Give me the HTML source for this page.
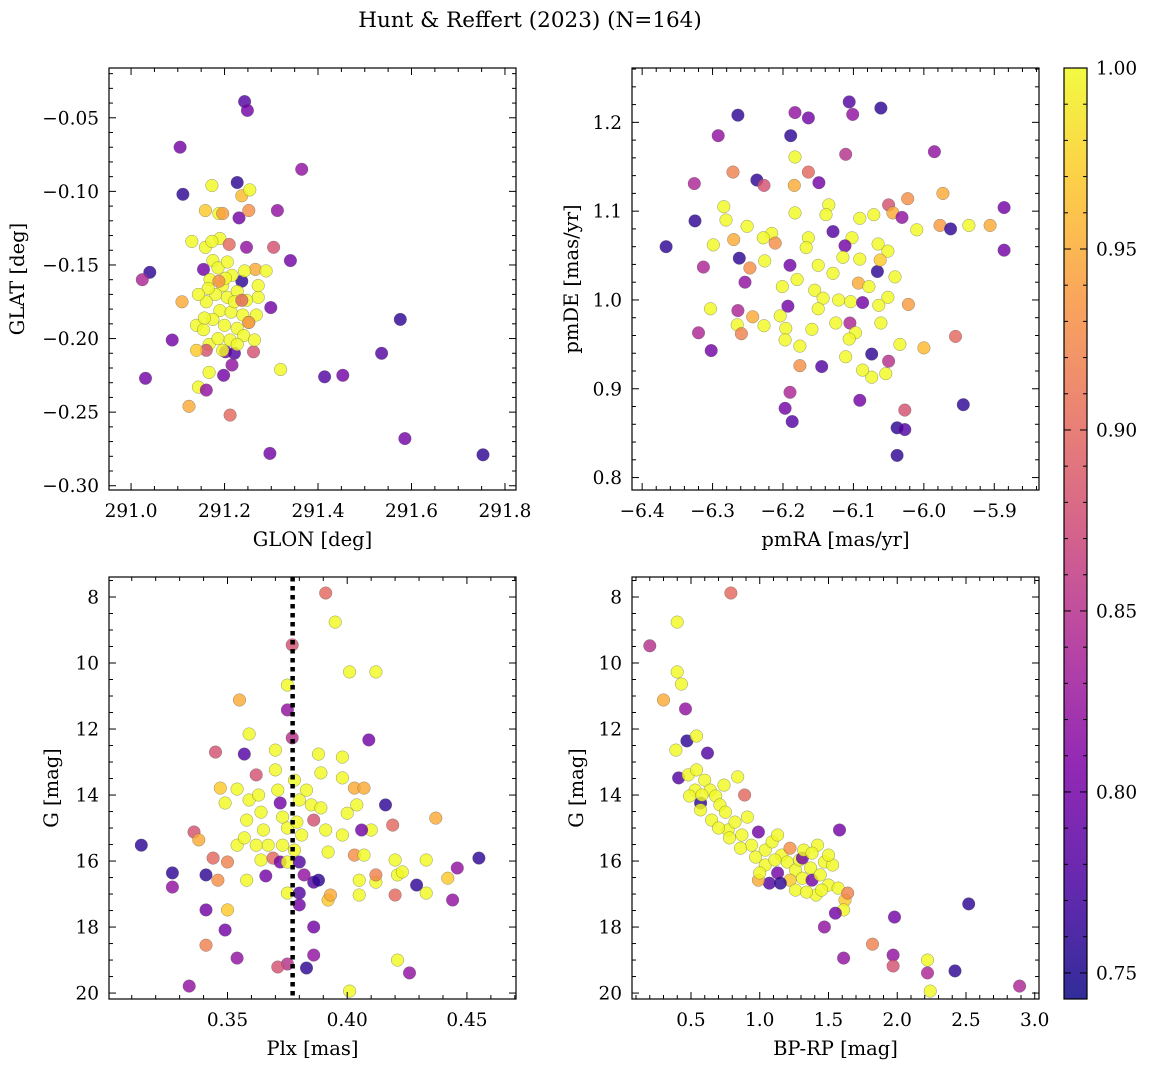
<!DOCTYPE html>
<html><head><meta charset="utf-8"><style>
body{margin:0;background:#fff;}
svg{display:block;font-family:"DejaVu Serif","Liberation Serif",serif;}
</style></head><body>
<svg id="fig" width="1149" height="1067" xmlns="http://www.w3.org/2000/svg">
<text x="530" y="27" text-anchor="middle" font-size="21.5">Hunt &amp; Reffert (2023) (N=164)</text>
</svg>
<script>
// Panel 1: GLON/GLAT
const p1Glon=[291.243,291.249,291.105,291.365,291.111,291.04,291.024,291.031,291.088,291.109,291.124,291.173,291.227,291.237,291.254,291.188,291.159,291.196,291.231,291.252,291.313,291.13,291.159,291.19,291.21,291.247,291.305,291.341,291.266,291.155,291.237,291.272,291.299,291.14,291.167,291.161,291.202,291.221,291.262,291.216,291.167,291.198,291.144,291.161,291.32,291.212,291.297,291.576,291.536,291.414,291.453,291.586,291.753,
291.175,291.186,291.206,291.169,291.196,291.216,291.181,291.206,291.227,291.247,291.161,291.19,291.214,291.239,291.175,291.2,291.227,291.252,291.268,291.155,291.186,291.212,291.241,291.264,291.196,291.227,291.165,291.243,291.272,291.289,291.144,291.157,291.221,291.202,291.173,291.188,291.252,291.237,291.14];
const p1Glat=[-0.039,-0.045,-0.070,-0.085,-0.102,-0.155,-0.160,-0.227,-0.201,-0.175,-0.246,-0.096,-0.094,-0.103,-0.099,-0.115,-0.113,-0.115,-0.118,-0.113,-0.113,-0.134,-0.138,-0.132,-0.136,-0.138,-0.138,-0.147,-0.153,-0.153,-0.161,-0.172,-0.179,-0.191,-0.204,-0.208,-0.209,-0.21,-0.209,-0.218,-0.223,-0.225,-0.233,-0.235,-0.221,-0.252,-0.278,-0.187,-0.21,-0.226,-0.225,-0.268,-0.279,
-0.147,-0.152,-0.148,-0.16,-0.164,-0.157,-0.17,-0.172,-0.168,-0.174,-0.175,-0.181,-0.182,-0.184,-0.187,-0.191,-0.193,-0.189,-0.184,-0.194,-0.2,-0.201,-0.198,-0.201,-0.208,-0.204,-0.166,-0.154,-0.164,-0.154,-0.17,-0.186,-0.175,-0.159,-0.134,-0.161,-0.189,-0.174,-0.208];
const p1Prob=[0.78,0.8,0.8,0.82,0.76,0.76,0.84,0.8,0.8,0.95,0.95,1,0.76,0.96,1,1,0.97,0.94,0.8,0.93,0.82,1,1,1,0.9,0.82,0.88,0.8,0.95,0.8,0.76,1,0.8,1,1,0.88,0.8,0.78,0.88,0.82,1,0.8,1,0.82,1,0.9,0.8,0.76,0.78,0.78,0.8,0.8,0.76,
1,1,1,1,1,1,1,1,1,1,1,1,1,1,1,1,1,1,1,1,1,1,1,1,1,1,1,1,1,1,1,1,1,1,1,0.93,0.93,0.9,0.97];
// Panel 2: pmRA/pmDE
const p2Pmra=[-6.264,-6.183,-6.164,-6.106,-6.101,-6.061,-6.292,-6.189,-5.985,-6.111,-6.183,-6.271,-6.164,-6.326,-6.237,-6.227,-6.184,-6.149,-6.135,-5.973,-6.05,-6.023,-6.284,-6.325,-6.281,-6.251,-6.216,-6.183,-6.139,-6.091,-6.071,-6.044,-6.031,-5.977,-5.962,-5.936,-5.906,-5.886,-5.886,-6.366,-6.299,-6.27,-6.228,-6.211,-6.164,-6.167,-6.129,-6.102,-6.112,-6.065,-6.051,-6.01,-6.066,-6.313,-6.247,-6.19,-6.226,-6.15,-6.129,-6.115,-6.091,-6.062,-6.262,-6.254,-6.201,-6.18,-6.155,-6.093,-6.078,-6.041,-6.143,-6.121,-6.051,-6.022,-6.303,-6.264,-6.193,-6.15,-6.104,-6.087,-6.064,-6.061,-6.243,-6.204,-6.125,-6.105,-6.097,-6.32,-6.265,-6.227,-6.259,-6.196,-6.159,-6.106,-6.034,-6.0,-5.955,-6.302,-6.197,-6.176,-6.111,-6.074,-6.05,-6.054,-6.074,-6.176,-6.145,-6.087,-5.944,-6.19,-6.091,-6.197,-6.027,-6.187,-6.038,-6.027,-6.038];
const p2Pmde=[1.208,1.211,1.205,1.223,1.209,1.216,1.185,1.185,1.167,1.164,1.161,1.144,1.144,1.131,1.135,1.129,1.129,1.132,1.107,1.12,1.107,1.114,1.105,1.089,1.09,1.083,1.075,1.098,1.096,1.092,1.096,1.098,1.093,1.084,1.08,1.084,1.084,1.104,1.056,1.06,1.062,1.068,1.07,1.064,1.07,1.059,1.077,1.07,1.061,1.063,1.055,1.079,1.032,1.037,1.036,1.039,1.044,1.039,1.03,1.048,1.046,1.045,1.047,1.02,1.015,1.023,1.011,1.019,1.015,1.026,1.002,1.0,1.003,0.995,0.99,0.988,0.993,0.99,0.998,0.997,0.994,0.974,0.981,0.982,0.974,0.974,0.963,0.963,0.972,0.971,0.962,0.968,0.967,0.956,0.95,0.946,0.959,0.943,0.955,0.948,0.936,0.939,0.931,0.917,0.913,0.926,0.925,0.921,0.882,0.896,0.887,0.878,0.876,0.863,0.856,0.854,0.825];
const p2Prob=[0.76,0.82,0.8,0.78,0.82,0.76,0.82,0.76,0.82,0.85,1,0.92,0.9,0.84,0.76,0.88,0.95,0.8,1,0.95,0.88,0.93,1,0.76,1,1,1,1,1,1,1,0.95,0.82,0.94,0.76,1,0.95,0.8,0.8,0.76,1,0.95,1,0.93,1,1,0.78,1,0.8,1,1,1,0.76,0.84,0.93,0.8,1,1,1,1,1,0.97,0.76,0.82,1,1,1,0.95,1,1,1,1,1,0.94,1,0.84,0.8,1,1,0.8,1,1,0.95,1,1,0.84,1,0.84,1,1,0.92,1,1,1,1,0.96,0.9,0.8,1,1,1,0.76,0.85,1,1,0.93,0.78,1,0.76,0.84,0.8,0.8,0.88,0.78,0.76,0.78,0.76];
// Panel 3: Plx/G
const p3Plx=[0.314,0.327,0.327,0.334,0.336,0.338,0.341,0.341,0.341,0.345,0.347,0.349,0.35,0.35,0.344,0.346,0.355,0.354,0.354,0.357,0.354,0.357,0.359,0.359,0.358,0.358,0.362,0.363,0.364,0.365,0.362,0.364,0.367,0.369,0.366,0.37,0.371,0.372,0.37,0.375,0.375,0.373,0.375,0.373,0.372,0.375,0.375,0.375,0.371,0.377,0.377,0.378,0.38,0.379,0.381,0.378,0.38,0.382,0.38,0.38,0.383,0.386,0.388,0.383,0.385,0.386,0.391,0.395,0.389,0.388,0.389,0.391,0.392,0.392,0.393,0.386,0.386,0.398,0.398,0.401,0.401,0.404,0.403,0.4,0.398,0.403,0.405,0.405,0.409,0.407,0.407,0.41,0.412,0.412,0.412,0.406,0.416,0.419,0.42,0.421,0.421,0.426,0.42,0.423,0.429,0.433,0.437,0.433,0.446,0.444,0.442,0.455,0.349];
const p3G=[15.52,16.36,16.79,19.79,15.12,15.36,16.42,17.48,18.55,12.7,13.79,18.09,17.48,16.03,15.91,16.58,11.12,13.82,15.52,15.3,18.94,12.76,12.15,14.15,14.76,16.58,13.39,14.0,14.52,15.06,15.52,15.97,15.52,15.91,16.45,13.24,13.85,14.24,12.64,10.67,11.42,14.67,15.0,15.52,16.03,16.03,16.97,19.12,19.21,9.45,12.27,13.55,14.15,14.82,15.21,15.67,16.03,16.42,16.97,17.33,19.24,16.64,16.58,13.85,14.3,14.76,7.88,8.76,13.33,12.76,14.39,15.06,15.73,17.18,17.03,18.0,18.85,12.85,13.48,10.27,19.94,14.3,13.79,14.55,15.21,15.82,16.58,17.03,12.33,13.79,15.82,15.06,16.64,16.42,10.27,15.06,14.3,14.91,15.97,16.42,19.0,19.39,17.03,16.33,16.73,16.97,14.7,15.97,16.21,17.18,16.52,15.91,14.24];
const p3Prob=[0.76,0.76,0.82,0.82,0.88,0.95,0.76,0.8,0.92,0.88,0.97,0.8,0.97,0.92,0.9,0.93,0.95,1,1,1,0.82,0.78,1,1,1,1,0.88,1,1,1,1,1,1,0.9,0.8,1,1,0.8,1,1,0.82,1,1,1,0.8,1,1,0.85,0.88,0.88,0.85,1,1,1,1,1,0.78,0.82,0.78,0.8,0.76,0.78,0.76,1,1,0.88,0.9,1,1,1,1,1,1,0.97,0.95,0.8,0.82,1,1,1,1,1,0.95,1,1,0.93,1,1,0.8,0.95,1,1,1,0.92,1,0.8,0.76,0.9,1,1,1,0.82,0.9,1,0.76,1,0.95,1,0.82,0.82,0.97,0.76,1];
const p3CutPlx=[0.3772];
// Panel 4: BP-RP/G
const p4Bprp=[0.2,0.3,0.4,0.4,0.43,0.46,0.79,0.39,0.47,0.54,0.62,0.41,0.48,0.54,0.53,0.6,0.64,0.68,0.57,0.58,0.71,0.74,0.84,0.89,0.65,0.77,0.82,0.91,0.87,0.94,0.99,1.04,1.09,1.13,1.16,1.22,1.2,1.26,1.29,1.37,1.31,1.38,1.44,1.47,1.53,1.58,1.5,1.57,1.62,1.64,1.61,1.55,1.41,1.22,1.13,1.07,1.15,1.04,0.99,1.31,1.32,1.42,1.38,1.5,0.97,0.86,0.78,0.7,1.47,1.61,1.82,1.97,1.97,1.98,2.22,2.22,2.24,2.42,2.52,2.89,1.0,1.11,1.26,1.34,1.45,0.57,0.49,0.75];
const p4G=[9.48,11.12,8.76,10.27,10.64,11.39,7.88,12.64,12.36,12.21,12.73,13.48,13.39,13.24,13.85,13.55,13.85,14.03,14.24,14.0,14.3,13.7,13.45,14.0,14.76,15.06,14.82,14.67,15.21,15.52,15.12,15.67,15.42,15.21,15.82,15.61,16.03,16.27,15.97,16.21,16.52,16.58,16.42,16.03,16.12,15.06,16.73,16.82,17.18,16.97,17.48,17.58,17.03,16.58,16.36,16.67,16.67,16.12,16.58,15.91,15.67,15.52,15.76,15.82,15.88,15.61,15.3,15.0,18.0,18.94,18.52,18.85,19.18,17.7,19.0,19.39,19.94,19.33,17.3,19.79,16.36,15.97,16.88,16.94,16.88,14.45,14.03,14.52];
const p4Prob=[0.85,0.95,1,1,1,0.82,0.9,1,0.76,1,0.78,0.78,1,1,1,1,1,1,0.76,1,1,1,1,0.9,1,1,1,1,1,1,0.8,1,1,1,1,0.93,1,1,1,1,1,0.8,1,1,1,0.8,1,1,0.97,0.92,1,0.8,1,0.97,0.8,0.78,0.76,1,0.95,0.8,1,1,1,1,1,1,1,1,0.82,0.82,0.92,0.82,0.88,0.8,1,0.84,1,0.76,0.76,0.84,1,1,1,1,1,1,1,1];
const cbTicks=[0.75,0.80,0.85,0.90,0.95,1.00];
const PMIN=0.7428,PMAX=1.0;

const NS='http://www.w3.org/2000/svg';
const svg=document.getElementById('fig');
function mk(tag,attrs,parent){const e=document.createElementNS(NS,tag);for(const k in attrs)e.setAttribute(k,attrs[k]);(parent||svg).appendChild(e);return e;}
const stops=[[0,[13,8,135]],[0.125,[75,3,161]],[0.25,[126,3,168]],[0.375,[170,35,149]],[0.5,[204,71,120]],[0.625,[230,108,92]],[0.75,[248,149,64]],[0.875,[253,196,39]],[1,[240,249,33]]];
function plasma(t){t=Math.max(0,Math.min(1,t));for(let i=1;i<stops.length;i++){if(t<=stops[i][0]){const a=stops[i-1],b=stops[i];const f=(t-a[0])/(b[0]-a[0]);const c=a[1].map((v,j)=>Math.round(v+(b[1][j]-v)*f));return `rgb(${c[0]},${c[1]},${c[2]})`;}}return 'rgb(240,249,33)';}
function pcol(p){return plasma((p-PMIN)/(PMAX-PMIN));}
const TFS=18.5, LFS=19.5;

function panel(o){
  const g=mk('g',{});
  
  
  const sx=v=>o.L+(v-o.x0)/(o.x1-o.x0)*(o.R-o.L);
  const sy=v=>o.B-(v-o.y0)/(o.y1-o.y0)*(o.B-o.T);
  const pg=mk('g',{},g);
  
  
  for(let i=0;i<o.xs.length;i++){
    const c=mk('circle',{cx:sx(o.xs[i]).toFixed(1),cy:sy(o.ys[i]).toFixed(1),r:6.3,fill:pcol(o.ps[i]),'fill-opacity':0.82,stroke:'#555',"stroke-opacity":0.6,'stroke-width':0.5},pg);
    
    
  }
  if(o.vline){const x=sx(o.vline[0]);const l=mk('line',{x1:x,x2:x,y1:o.T,y2:o.B,stroke:'#000','stroke-width':4.5,'stroke-dasharray':'4.5,4.5'},g);
    
    }
  const f=mk('rect',{x:o.L,y:o.T,width:o.R-o.L,height:o.B-o.T,fill:'none',stroke:'#000','stroke-width':1.2},g);
  
  
  const tk=mk('g',{stroke:'#000','stroke-width':1},g);
  const eps=1e-9;
  const xlo=Math.min(o.x0,o.x1),xhi=Math.max(o.x0,o.x1);
  for(let v=Math.ceil(xlo/o.xmin-eps)*o.xmin;v<=xhi+eps;v+=o.xmin){
    const isMaj=Math.abs(v/o.xmaj-Math.round(v/o.xmaj))<1e-6;const len=isMaj?7:4;const x=sx(v);
    mk('line',{x1:x,x2:x,y1:o.B,y2:o.B-len},tk);mk('line',{x1:x,x2:x,y1:o.T,y2:o.T+len},tk);
    if(isMaj){const t=mk('text',{x:x,y:o.B+27,'text-anchor':'middle','font-size':TFS,stroke:'none'},g);t.textContent=o.xfmt(v).replace('-','\u2212');
      
      }
  }
  const ylo=Math.min(o.y0,o.y1),yhi=Math.max(o.y0,o.y1);
  for(let v=Math.ceil(ylo/o.ymin-eps)*o.ymin;v<=yhi+eps;v+=o.ymin){
    const isMaj=Math.abs(v/o.ymaj-Math.round(v/o.ymaj))<1e-6;const len=isMaj?7:4;const y=sy(v);
    mk('line',{x1:o.L,x2:o.L+len,y1:y,y2:y},tk);mk('line',{x1:o.R,x2:o.R-len,y1:y,y2:y},tk);
    if(isMaj){const t=mk('text',{x:o.L-10,y:y+6.5,'text-anchor':'end','font-size':TFS,stroke:'none'},g);t.textContent=o.yfmt(v).replace('-','\u2212');
      
      }
  }
  const xl=mk('text',{x:(o.L+o.R)/2,y:o.B+56,'text-anchor':'middle','font-size':LFS},g);xl.textContent=o.xlabel;
  
  
  const yl=mk('text',{x:0,y:0,'text-anchor':'middle','font-size':LFS,transform:`translate(${o.ylx},${(o.T+o.B)/2}) rotate(-90)`},g);yl.textContent=o.ylabel;
  
  
}
panel({name:'glon-glat-panel',L:109,R:516,T:68,B:490,x0:290.9528,x1:291.8236,y0:-0.3029,y1:-0.01617,xmaj:0.2,xmin:0.05,ymaj:0.05,ymin:0.01,xfmt:v=>v.toFixed(1),yfmt:v=>v.toFixed(2),xs:p1Glon,ys:p1Glat,ps:p1Prob,xlabel:'GLON [deg]',ylabel:'GLAT [deg]',ylx:24});
panel({name:'pm-panel',L:632,R:1039,T:68,B:490,x0:-6.4144,x1:-5.8365,y0:0.786,y1:1.2612,xmaj:0.1,xmin:0.02,ymaj:0.1,ymin:0.02,xfmt:v=>v.toFixed(1),yfmt:v=>v.toFixed(1),xs:p2Pmra,ys:p2Pmde,ps:p2Prob,xlabel:'pmRA [mas/yr]',ylabel:'pmDE [mas/yr]',ylx:578});
panel({name:'plx-g-panel',L:109,R:516,T:577,B:999,x0:0.3005,x1:0.4705,y0:20.18,y1:7.394,xmaj:0.05,xmin:0.01,ymaj:2,ymin:0.5,xfmt:v=>v.toFixed(2),yfmt:v=>String(Math.round(v)),xs:p3Plx,ys:p3G,ps:p3Prob,xlabel:'Plx [mas]',ylabel:'G [mag]',ylx:58,vline:p3CutPlx});
panel({name:'cmd-panel',L:632,R:1039,T:577,B:999,x0:0.0709,x1:3.031,y0:20.18,y1:7.394,xmaj:0.5,xmin:0.1,ymaj:2,ymin:0.5,xfmt:v=>v.toFixed(1),yfmt:v=>String(Math.round(v)),xs:p4Bprp,ys:p4G,ps:p4Prob,xlabel:'BP-RP [mag]',ylabel:'G [mag]',ylx:583});

const defs=mk('defs',{});
const lg=mk('linearGradient',{id:'cbg',x1:0,y1:1,x2:0,y2:0},defs);
for(let i=0;i<=20;i++){const t=i/20;mk('stop',{offset:t,'stop-color':plasma(t),'stop-opacity':0.85},lg);}
const cb=mk('g',{});


const CT=68,CB=999,CL=1064,CR=1087;
mk('rect',{x:CL,y:CT,width:CR-CL,height:CB-CT,fill:'url(#cbg)',stroke:'#000','stroke-width':1.2},cb);
const cy=v=>CB-(v-PMIN)/(PMAX-PMIN)*(CB-CT);
for(let v=0.75;v<=1.0001;v+=0.01){const y=cy(v);const maj=Math.abs(v*20-Math.round(v*20))<1e-6;mk('line',{x1:CR,x2:CR-(maj?7:4),y1:y,y2:y,stroke:'#000'},cb);mk('line',{x1:CL,x2:CL+(maj?7:4),y1:y,y2:y,stroke:'#000'},cb);}
cbTicks.forEach(v=>{const t=mk('text',{x:CR+9,y:cy(v)+6.5,'font-size':TFS},cb);t.textContent=v.toFixed(2);
  
  });
</script>
</body></html>
